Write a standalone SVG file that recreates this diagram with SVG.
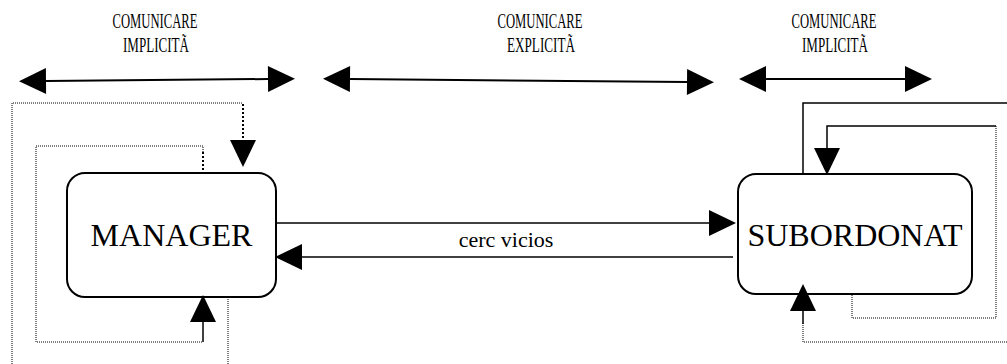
<svg xmlns="http://www.w3.org/2000/svg" width="1007" height="364" viewBox="0 0 1007 364">
<style>
.box{fill:#fff;stroke:#000;stroke-width:2}
.ln{fill:none;stroke:#000;stroke-width:1.5}
.top{fill:none;stroke:#000;stroke-width:2}
.dot{fill:none;stroke:#000;stroke-width:1;stroke-dasharray:1 1}
.dotb{fill:none;stroke:#000;stroke-width:2;stroke-dasharray:2 2}
text{font-family:"Liberation Serif","Times New Roman","DejaVu Serif",serif;fill:#000;text-anchor:middle}
.h{font-size:20px}
.n{font-size:32px}
</style>
<defs>
<marker id="hd" markerUnits="userSpaceOnUse" markerWidth="28" markerHeight="26" refX="0" refY="13" orient="auto-start-reverse" viewBox="0 0 28 26" overflow="visible">
<path d="M0,0 L27,13 L0,26 z" fill="#000"/>
</marker>
</defs>
<g id="labels" font-family="Liberation Serif, Times New Roman, serif">
<text class="h" x="155" y="28" textLength="85" lengthAdjust="spacingAndGlyphs">COMUNICARE</text>
<text class="h" x="156" y="52" textLength="66" lengthAdjust="spacingAndGlyphs">IMPLICITÃ</text>
<text class="h" x="540" y="28" textLength="85" lengthAdjust="spacingAndGlyphs">COMUNICARE</text>
<text class="h" x="541" y="52" textLength="68" lengthAdjust="spacingAndGlyphs">EXPLICITÃ</text>
<text class="h" x="834" y="28" textLength="85" lengthAdjust="spacingAndGlyphs">COMUNICARE</text>
<text class="h" x="835" y="52" textLength="66" lengthAdjust="spacingAndGlyphs">IMPLICITÃ</text>
</g>
<g id="manager" font-family="Liberation Serif, Times New Roman, serif">
<rect class="box" x="67" y="173" width="209" height="124" rx="18"/>
<text class="n" x="171.5" y="246">MANAGER</text>
</g>
<g id="subordonat" font-family="Liberation Serif, Times New Roman, serif">
<rect class="box" x="738" y="174" width="234" height="120" rx="18"/>
<text class="n" x="855" y="246">SUBORDONAT</text>
</g>
<g id="connectors" font-family="Liberation Serif, Times New Roman, serif">
<path class="top" d="M46,81 L268,79" marker-start="url(#hd)" marker-end="url(#hd)"/>
<path class="top" d="M350,79 L687,82" marker-start="url(#hd)" marker-end="url(#hd)"/>
<path class="top" d="M766,79 L905,79" marker-start="url(#hd)" marker-end="url(#hd)"/>
<path class="ln" d="M276,223 H709" marker-end="url(#hd)"/>
<path class="ln" d="M733,257 H302" marker-end="url(#hd)"/>
<text x="506" y="247" font-size="22">cerc vicios</text>
<path class="dot" d="M228,297 V364 M12,364 V103 H243"/>
<path class="dotb" d="M243,104 V140" marker-end="url(#hd)"/>
<path class="dotb" d="M203,152 V172"/>
<path class="dot" d="M203,152 V146 H36 V342 H203"/>
<path class="ln" d="M203,342 V322" marker-end="url(#hd)"/>
<path class="ln" d="M803,174 V103 H1007"/>
<path class="dot" d="M1007,342 H803 V323"/>
<path class="ln" d="M803,324 V311" marker-end="url(#hd)"/>
<path class="ln" d="M996,126 H827 V148" marker-end="url(#hd)"/>
<path class="dot" d="M852,295 V318 H996 V126"/>
</g>
</svg>
